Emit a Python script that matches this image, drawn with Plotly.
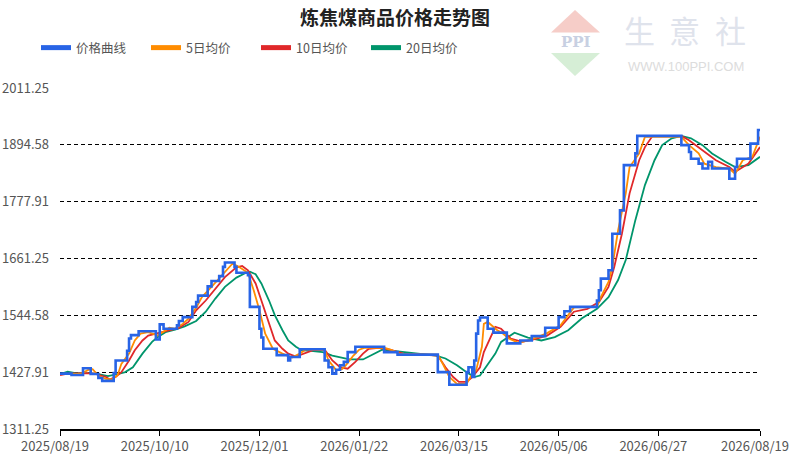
import pandas as pd
import plotly.graph_objects as go

# ---- data (day offset from 2025/08/19) ----
start_date = pd.Timestamp("2025-08-19")

price_days = [0, 6, 12, 16, 20, 22, 28, 29, 35, 36, 37, 41, 50, 52, 54, 61, 62, 64, 69, 71,
              72, 77, 79, 83, 85, 86, 91, 92, 98, 99, 104, 105, 106, 113, 119, 120, 125, 138, 140, 142,
              144, 146, 148, 150, 154, 169, 176, 197, 203, 212, 213, 215, 216, 217, 218, 219, 223, 226, 233, 240,
              246, 253, 260, 263, 266, 280, 281, 282, 286, 288, 292, 294, 300, 301, 324, 328, 329, 333, 335, 338,
              340, 349, 352, 353, 360, 364, 365]
price_vals = [1425, 1422, 1436, 1424, 1416, 1410, 1426, 1452, 1472, 1497, 1504, 1512, 1495, 1526, 1517, 1524, 1533, 1541, 1562, 1572,
              1585, 1604, 1615, 1625, 1644, 1653, 1644, 1632, 1627, 1562, 1517, 1499, 1476, 1463, 1452, 1459, 1475, 1452, 1438, 1425,
              1433, 1442, 1449, 1469, 1480, 1469, 1464, 1428, 1402, 1428, 1438, 1418, 1452, 1507, 1534, 1540, 1517, 1509, 1487, 1493,
              1502, 1519, 1541, 1553, 1562, 1575, 1596, 1620, 1637, 1712, 1760, 1853, 1877, 1913, 1894, 1880, 1866, 1856, 1846, 1860,
              1846, 1825, 1849, 1866, 1897, 1925, 1925]

ma5_days = [0, 11, 15, 17, 20, 24, 27, 30, 32, 36, 39, 42, 46, 51, 57, 60, 64, 67, 71, 74,
            79, 85, 90, 93, 98, 101, 104, 107, 111, 116, 121, 125, 128, 138, 140, 144, 147, 149, 153, 156,
            159, 169, 173, 177, 197, 200, 203, 207, 212, 214, 217, 220, 221, 223, 228, 230, 234, 239, 244, 249,
            254, 261, 265, 268, 280, 282, 286, 288, 291, 295, 297, 302, 305, 324, 328, 333, 336, 342, 349, 352,
            356, 361, 365]
ma5_vals = [1424, 1425, 1433, 1434, 1421, 1414, 1413, 1421, 1445, 1466, 1493, 1507, 1510, 1503, 1519, 1517, 1527, 1538, 1560, 1582,
            1603, 1630, 1651, 1645, 1632, 1596, 1555, 1507, 1476, 1466, 1458, 1466, 1474, 1474, 1452, 1432, 1434, 1442, 1462, 1474,
            1478, 1478, 1473, 1466, 1464, 1442, 1418, 1404, 1404, 1418, 1432, 1480, 1527, 1531, 1514, 1510, 1497, 1488, 1493, 1500,
            1508, 1524, 1545, 1561, 1562, 1582, 1613, 1644, 1719, 1795, 1849, 1877, 1911, 1911, 1894, 1877, 1856, 1849, 1846, 1835,
            1863, 1870, 1911]

ma10_days = [0, 4, 14, 18, 24, 26, 29, 32, 36, 39, 43, 46, 50, 53, 57, 62, 67, 71, 76, 81,
             86, 92, 95, 98, 102, 105, 109, 112, 116, 119, 123, 126, 132, 138, 142, 146, 150, 154, 158, 161,
             166, 172, 179, 197, 201, 205, 208, 212, 215, 219, 221, 227, 230, 235, 241, 247, 254, 261, 268, 275,
             281, 286, 289, 293, 297, 302, 305, 309, 324, 328, 335, 342, 349, 352, 359, 365]
ma10_vals = [1422, 1425, 1426, 1425, 1418, 1413, 1418, 1428, 1452, 1473, 1493, 1503, 1507, 1510, 1515, 1519, 1531, 1555, 1575, 1600,
             1623, 1643, 1646, 1637, 1610, 1575, 1528, 1493, 1476, 1466, 1460, 1464, 1473, 1474, 1452, 1438, 1435, 1449, 1466, 1476,
             1478, 1474, 1466, 1462, 1438, 1418, 1408, 1408, 1418, 1438, 1469, 1521, 1517, 1497, 1490, 1495, 1503, 1521, 1552, 1558,
             1572, 1603, 1644, 1712, 1795, 1863, 1890, 1913, 1913, 1904, 1884, 1863, 1849, 1839, 1856, 1890]

ma20_days = [0, 4, 8, 15, 20, 25, 30, 34, 38, 43, 48, 51, 55, 60, 65, 71, 76, 81, 86, 92,
             97, 99, 102, 105, 109, 112, 116, 119, 123, 126, 132, 137, 142, 147, 151, 158, 163, 168, 175, 182,
             189, 196, 201, 207, 212, 216, 219, 222, 227, 230, 237, 244, 251, 258, 265, 272, 280, 286, 291, 295,
             300, 305, 310, 314, 319, 324, 329, 335, 340, 347, 352, 359, 365]
ma20_vals = [1424, 1429, 1426, 1426, 1424, 1420, 1424, 1428, 1438, 1466, 1490, 1500, 1510, 1515, 1522, 1533, 1552, 1579, 1603, 1622,
             1632, 1634, 1629, 1610, 1575, 1545, 1514, 1493, 1480, 1473, 1471, 1469, 1462, 1458, 1454, 1454, 1464, 1474, 1471, 1468,
             1466, 1462, 1456, 1442, 1428, 1418, 1421, 1438, 1466, 1490, 1509, 1499, 1493, 1500, 1514, 1538, 1558, 1582, 1617, 1658,
             1740, 1812, 1863, 1894, 1908, 1913, 1908, 1894, 1877, 1860, 1849, 1853, 1870]

y_ticks = [1311.25, 1427.91, 1544.58, 1661.25, 1777.91, 1894.58, 2011.25]
x_tick_days = [0, 52, 104, 156, 208, 260, 312, 365]
x_tick_labels = ["2025/08/19", "2025/10/10", "2025/12/01", "2026/01/22",
                 "2026/03/15", "2026/05/06", "2026/06/27", "2026/08/19"]


def to_dates(days):
    return start_date + pd.to_timedelta(days, unit="D")


series = [
    ("价格曲线", price_days, price_vals, "#2864e6", 2.6, "hv"),
    ("5日均价", ma5_days, ma5_vals, "#ff8c00", 1.8, "linear"),
    ("10日均价", ma10_days, ma10_vals, "#e0282a", 1.8, "linear"),
    ("20日均价", ma20_days, ma20_vals, "#00956b", 1.8, "linear"),
]

fig = go.Figure()
# draw blue last so it sits on top
for name, d, v, color, w, shape in reversed(series):
    fig.add_trace(go.Scatter(
        x=to_dates(d), y=v, name=name, mode="lines",
        line=dict(color=color, width=w, shape=shape),
        showlegend=False,
    ))
# legend entries with a thick bar like the original
for i, (name, d, v, color, w, shape) in enumerate(series):
    fig.add_trace(go.Scatter(
        x=[None], y=[None], name=name, mode="lines",
        line=dict(color=color, width=5), legendrank=i + 1,
    ))

W, H = 790, 458
# plot area in pixels
L, R, T, B = 60, 760, 88, 428.7


def px(x):
    return (x - L) / (R - L)


def py(y):
    return (B - y) / (B - T)


# watermark logo
fig.add_shape(type="path", xref="paper", yref="paper",
              path=f"M {px(575)},{py(10)} L {px(600)},{py(32.5)} L {px(551)},{py(32.5)} Z",
              fillcolor="#f6cdc8", line_width=0, layer="below")
fig.add_shape(type="path", xref="paper", yref="paper",
              path=f"M {px(551)},{py(53)} L {px(600)},{py(53)} L {px(575)},{py(76)} Z",
              fillcolor="#d6eed6", line_width=0, layer="below")
fig.add_annotation(x=px(575.5), y=py(42.5), xref="paper", yref="paper", text="<b>PPI</b>",
                   xanchor="center", yanchor="middle", showarrow=False,
                   font=dict(family="DejaVu Serif", size=15, color="#c8d0e2"))
for ch, chx in zip(["生", "意", "社"], [639, 684, 730]):
    fig.add_annotation(x=px(chx), y=py(30), xref="paper", yref="paper", text=ch,
                       xanchor="center", yanchor="middle", showarrow=False,
                       font=dict(family="Noto Sans CJK SC", size=31, color="#dfe3ec"))
fig.add_annotation(x=px(686), y=py(67), xref="paper", yref="paper", text="WWW.100PPI.COM",
                   xanchor="center", yanchor="middle", showarrow=False,
                   font=dict(family="Liberation Sans", size=13, color="#dcdcdc"))

fig.update_layout(
    width=W, height=H,
    margin=dict(l=L, r=W - R, t=T, b=H - B, autoexpand=False),
    paper_bgcolor="white", plot_bgcolor="white",
    font=dict(family="Noto Sans CJK SC", size=13, color="#555555"),
    title=dict(text="<b>炼焦煤商品价格走势图</b>", x=395 / W, xref="container", xanchor="center",
               y=1 - 18 / H, yref="container", yanchor="middle",
               font=dict(size=19, color="#222222")),
    legend=dict(orientation="h", xref="container", yref="container",
                x=36 / W, y=1 - 48 / H, xanchor="left", yanchor="middle",
                itemwidth=30, entrywidth=65, entrywidthmode="pixels",
                font=dict(size=12.5, color="#555555"), bgcolor="rgba(0,0,0,0)"),
    showlegend=True,
)

fig.update_xaxes(
    range=[to_dates([0])[0], to_dates([365])[0]],
    tickvals=to_dates(x_tick_days), ticktext=x_tick_labels,
    showgrid=False, showline=True, linecolor="black", linewidth=1.5,
    ticks="outside", ticklen=5, tickcolor="black", automargin=False,
    ticklabelshift=-5, ticklabeloverflow="allow",
    tickfont=dict(size=13, color="#555555"), zeroline=False,
)
fig.update_yaxes(
    range=[y_ticks[0], y_ticks[-1]], tickvals=y_ticks,
    ticktext=[f"{t:.2f}" for t in y_ticks],
    showgrid=True, gridcolor="black", gridwidth=1, griddash="4px,3px",
    showline=False, zeroline=False, ticks="", automargin=False, ticklabelstandoff=10,
    tickfont=dict(size=13, color="#555555"),
)

# drop the default 8px body margin so the chart sits at the window's top-left corner
fig.write_html("out.html", config={"displayModeBar": False},
               post_script="document.body.style.margin = '0';")
